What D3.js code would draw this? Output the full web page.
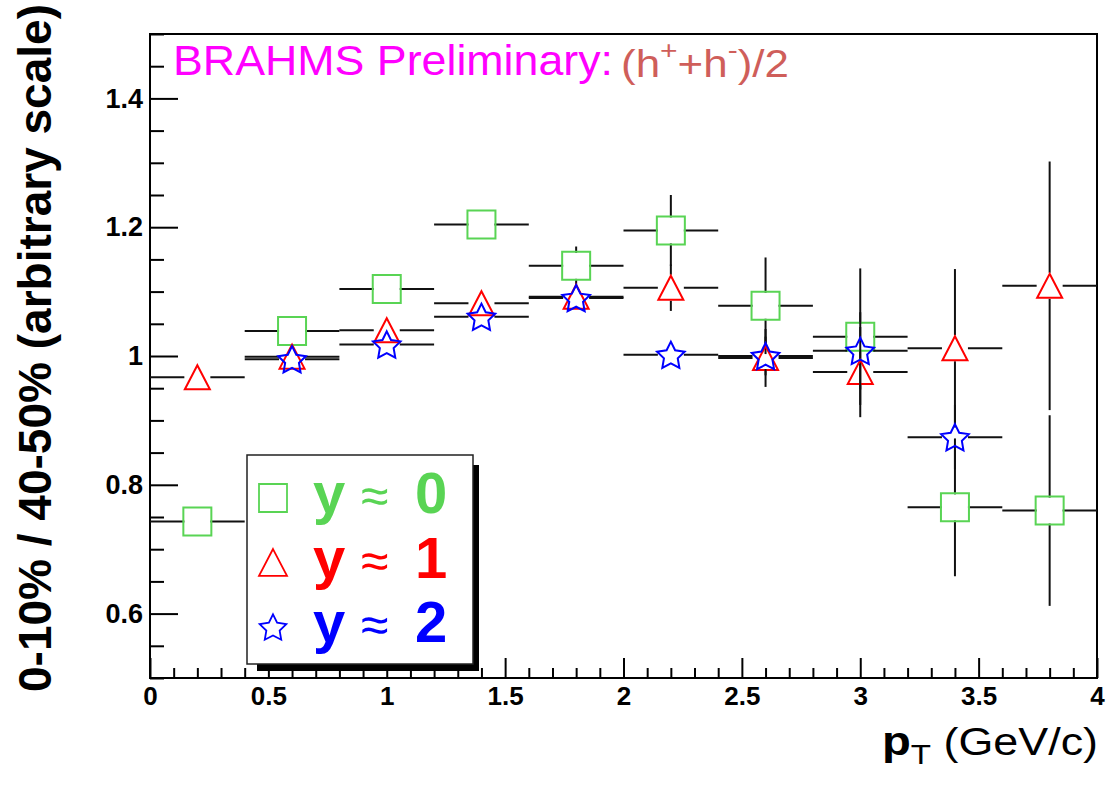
<!DOCTYPE html>
<html>
<head>
<meta charset="utf-8">
<script src="https://cdn.jsdelivr.net/npm/d3@7"></script>
<style>
  body { margin: 0; background: #fff; }
  text { font-family: "Liberation Sans", Arial, Helvetica, sans-serif; }
</style>
</head>
<body>
<svg id="fig" width="1109" height="794"></svg>
<script>
// pT bins (GeV/c) and their half widths
const ptCenters = [0.2, 0.6, 1.0, 1.4, 1.8, 2.2, 2.6, 3.0, 3.4, 3.8];
const ptHalfWidth = [0.2, 0.2, 0.2, 0.2, 0.2, 0.2, 0.2, 0.2, 0.2, 0.2];

// y ~ 0 (green squares)
const ratioY0 = [0.743, 1.039, 1.104, 1.204, 1.140, 1.195, 1.078, 1.030, 0.765, 0.760];
const errY0   = [0.010, 0.010, 0.010, 0.020, 0.030, 0.055, 0.075, 0.106, 0.107, 0.148];

// y ~ 1 (red triangles)
const ratioY1 = [0.967, 0.999, 1.040, 1.082, 1.092, 1.106, 0.997, 0.975, 1.012, 1.109];
const errY1   = [0.010, 0.010, 0.012, 0.015, 0.015, 0.036, 0.045, 0.070, 0.123, 0.193];

// y ~ 2 (blue stars), no point in first and last bin
const ptCentersY2 = [0.6, 1.0, 1.4, 1.8, 2.2, 2.6, 3.0, 3.4];
const ratioY2 = [0.995, 1.018, 1.061, 1.090, 1.002, 1.000, 1.008, 0.874];
const errY2   = [0.010, 0.010, 0.012, 0.015, 0.015, 0.030, 0.060, 0.050];

const xMajorTicks = [0, 0.5, 1, 1.5, 2, 2.5, 3, 3.5, 4];
const yMajorTicks = [0.6, 0.8, 1.0, 1.2, 1.4];
const legendLabels = ["0", "1", "2"];

const svg = d3.select("#fig");
const padLeft = 150, padRight = 1097, padTop = 34, padBottom = 678;

var x = d3.scaleLinear().domain([0, 4]).range([padLeft, padRight]);
var y = d3.scaleLinear().domain([0.5, 1.5]).range([padBottom, padTop]);

// ROOT-like open markers
const symTriangle = {
    draw(ctx, size) {
        const w = Math.sqrt(size), h = w * 0.96;
        ctx.moveTo(0, -h / 2);
        ctx.lineTo(w / 2, h / 2);
        ctx.lineTo(-w / 2, h / 2);
        ctx.closePath();
    }
};
const symStar = {
    draw(ctx, size) {
        const R = Math.sqrt(size) / 2, r = R * 0.5;
        for (let i = 0; i < 10; i++) {
            const a = -Math.PI / 2 + i * Math.PI / 5;
            const rad = i % 2 ? r : R;
            const px = rad * Math.cos(a), py = rad * Math.sin(a) + R * 0.1;
            if (i === 0) ctx.moveTo(px, py); else ctx.lineTo(px, py);
        }
        ctx.closePath();
    }
};

const series = [
    { color: "#59d454", type: d3.symbolSquare, size: 784,
      pts: ptCenters.map((p, i) => ({ p, dp: ptHalfWidth[i], v: ratioY0[i], dv: errY0[i] })) },
    { color: "#ff0000", type: symTriangle, size: 625,
      pts: ptCenters.map((p, i) => ({ p, dp: ptHalfWidth[i], v: ratioY1[i], dv: errY1[i] })) },
    { color: "#0000ff", type: symStar, size: 841,
      pts: ptCentersY2.map((p, i) => ({ p, dp: 0.2, v: ratioY2[i], dv: errY2[i] })) }
];

svg.append("rect").attr("width", 1109).attr("height", 794).attr("fill", "#fff");

// minor + major ticks, drawn inward like ROOT
const yMinor = d3.range(0.5, 1.5001, 0.05).map(d => +d.toFixed(2))
    .filter(d => !yMajorTicks.some(m => Math.abs(m - d) < 1e-6));
const xMinor = d3.range(0, 4.0001, 0.1).map(d => +d.toFixed(1))
    .filter(d => !xMajorTicks.some(m => Math.abs(m - d) < 1e-6));

function styleAxis(g, fontSize) {
    g.select(".domain").remove();
    g.selectAll("line").attr("stroke", "#000").attr("stroke-width", 2);
    g.selectAll("text").attr("font-size", fontSize).attr("font-weight", "bold").attr("fill", "#000");
}

svg.append("g").attr("transform", "translate(" + padLeft + ",0)")
    .call(d3.axisLeft(y).tickValues(yMinor).tickSize(-14).tickFormat(""))
    .call(g => styleAxis(g, 0));
svg.append("g").attr("transform", "translate(" + padLeft + ",0)")
    .call(d3.axisLeft(y).tickValues(yMajorTicks).tickSize(-28).tickPadding(7).tickFormat(d3.format("~g")))
    .call(g => styleAxis(g, 27));
svg.append("g").attr("transform", "translate(0," + padBottom + ")")
    .call(d3.axisBottom(x).tickValues(xMinor).tickSize(-10).tickFormat(""))
    .call(g => styleAxis(g, 0));
svg.append("g").attr("transform", "translate(0," + padBottom + ")")
    .call(d3.axisBottom(x).tickValues(xMajorTicks).tickSize(-20).tickPadding(9).tickFormat(d3.format("~g")))
    .call(g => styleAxis(g, 26));

// frame
svg.append("rect")
    .attr("x", padLeft).attr("y", padTop)
    .attr("width", padRight - padLeft).attr("height", padBottom - padTop)
    .attr("fill", "none").attr("stroke", "#000").attr("stroke-width", 2);

// error bars + markers, error lines leave a gap around the marker
const gap = 13;
series.forEach(s => {
    const g = svg.append("g");
    const segs = [];
    s.pts.forEach(d => {
        const cx = x(d.p), cy = y(d.v);
        const x0 = x(d.p - d.dp), x1 = x(d.p + d.dp);
        const y0 = y(d.v + d.dv), y1 = y(d.v - d.dv);
        if (cx - x0 > gap) segs.push([x0, cy, cx - gap, cy]);
        if (x1 - cx > gap) segs.push([cx + gap, cy, x1, cy]);
        if (cy - y0 > gap) segs.push([cx, y0, cx, cy - gap]);
        if (y1 - cy > gap) segs.push([cx, cy + gap, cx, y1]);
    });
    g.selectAll("line").data(segs).enter().append("line")
        .attr("x1", d => d[0]).attr("y1", d => d[1])
        .attr("x2", d => d[2]).attr("y2", d => d[3])
        .attr("stroke", "#111").attr("stroke-width", 2);
    g.selectAll("path").data(s.pts).enter().append("path")
        .attr("d", d3.symbol().type(s.type).size(s.size))
        .attr("transform", d => "translate(" + x(d.p) + "," + y(d.v) + ")")
        .attr("fill", "none").attr("stroke", s.color).attr("stroke-width", 2);
});

// title
svg.append("text").attr("x", 173).attr("y", 75)
    .attr("font-size", 42).attr("fill", "#ff00ff")
    .attr("textLength", 440).attr("lengthAdjust", "spacingAndGlyphs")
    .text("BRAHMS Preliminary:");
const sub = svg.append("text").attr("x", 621).attr("y", 77)
    .attr("font-size", 38).attr("fill", "#cf5e5a")
    .attr("textLength", 168).attr("lengthAdjust", "spacingAndGlyphs");
sub.append("tspan").text("(h");
sub.append("tspan").attr("font-size", 26).attr("dy", -18).text("+");
sub.append("tspan").attr("dy", 18).text("+h");
sub.append("tspan").attr("font-size", 26).attr("dy", -18).text("-");
sub.append("tspan").attr("dy", 18).text(")/2");

// axis titles
svg.append("text")
    .attr("transform", "translate(51,692) rotate(-90)")
    .attr("font-size", 46).attr("font-weight", "bold")
    .attr("textLength", 688).attr("lengthAdjust", "spacingAndGlyphs")
    .text("0-10% / 40-50% (arbitrary scale)");
const xt = svg.append("text").attr("x", 882).attr("y", 755)
    .attr("textLength", 216).attr("lengthAdjust", "spacingAndGlyphs");
xt.append("tspan").attr("font-size", 40).attr("font-weight", "bold").text("p");
xt.append("tspan").attr("font-size", 28).attr("dy", 9).text("T");
xt.append("tspan").attr("font-size", 38).attr("dy", -9).text(" (GeV/c)");

// legend with ROOT drop shadow
svg.append("rect").attr("x", 257).attr("y", 465).attr("width", 222).attr("height", 206).attr("fill", "#000");
svg.append("rect").attr("x", 247).attr("y", 455).attr("width", 226).attr("height", 209)
    .attr("fill", "#fff").attr("stroke", "#222").attr("stroke-width", 1.5);

const legend = svg.append("g").selectAll("g").data(series).enter().append("g")
    .attr("transform", (d, i) => "translate(0," + (i * 64.5) + ")");
legend.append("path")
    .attr("d", d => d3.symbol().type(d.type).size(784)())
    .attr("transform", "translate(273,498)")
    .attr("fill", "none").attr("stroke", d => d.color).attr("stroke-width", 1.8);
legend.append("text").attr("x", 313).attr("y", 513)
    .attr("font-size", 58).attr("font-weight", "bold").attr("fill", d => d.color).text("y");
legend.append("text").attr("x", 361).attr("y", 513)
    .attr("font-size", 50).attr("fill", d => d.color).text("\u2248");
legend.append("text").attr("x", 415).attr("y", 513)
    .attr("font-size", 58).attr("font-weight", "bold").attr("fill", d => d.color)
    .text((d, i) => legendLabels[i]);
</script>
</body>
</html>
